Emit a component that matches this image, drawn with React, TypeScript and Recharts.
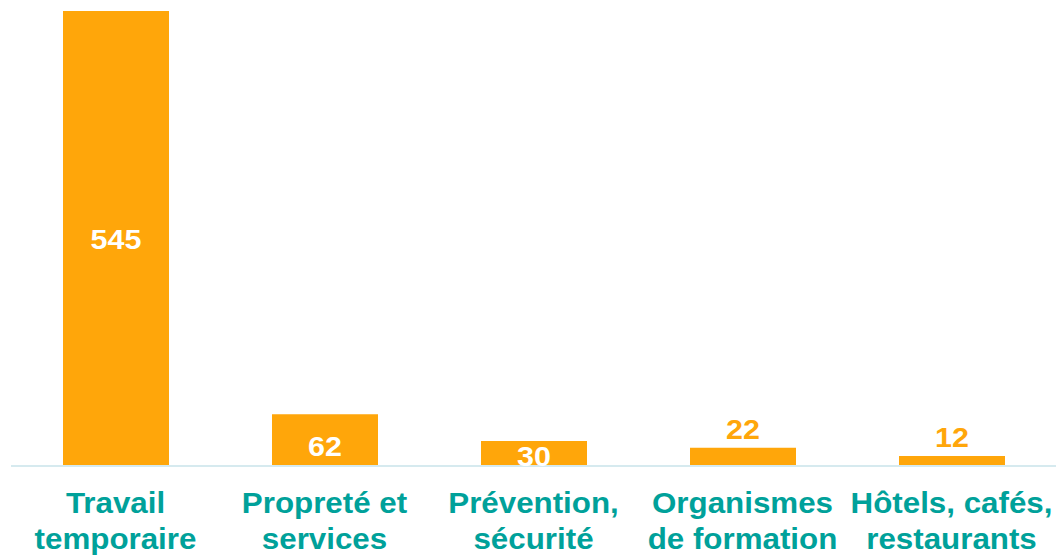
import React from 'react';
import { BarChart, Bar, XAxis, YAxis, LabelList } from 'recharts';

const categories = [
  'Travail\ntemporaire',
  'Propreté et\nservices',
  'Prévention,\nsécurité',
  'Organismes\nde formation',
  'Hôtels, cafés,\nrestaurants',
];
const values = [545, 62, 30, 22, 12];

const data = categories.map((c, i) => ({ name: c, value: values[i] }));

const BAR = '#FFA60A';
const TEAL = '#00A19A';
const FONT = '"Liberation Sans", Arial, sans-serif';

const Tick = (props: any) => {
  const { x, y, payload } = props;
  const lines = String(payload.value).split('\n');
  return (
    <g>
      {lines.map((l: string, i: number) => (
        <text
          key={i}
          transform={`translate(${x},${y + 39 + i * 36}) scale(1.08,1)`}
          x={0}
          y={0}
          textAnchor="middle"
          fill={TEAL}
          fontFamily={FONT}
          fontWeight="bold"
          fontSize={29}
        >
          {l}
        </text>
      ))}
    </g>
  );
};

const ValueLabel = (props: any) => {
  const { x, y, width, height, value } = props;
  const cx = x + width / 2;
  const bottom = y + height;
  let base: number;
  let fill = '#FFFFFF';
  if (height > 100) base = y + height / 2 + 10;
  else if (height > 40) base = bottom - 10;
  else if (height > 20) base = bottom;
  else {
    base = y - 9;
    fill = BAR;
  }
  return (
    <text
      transform={`translate(${cx},${base}) scale(1.09,1)`}
      x={0}
      y={0}
      textAnchor="middle"
      fill={fill}
      fontFamily={FONT}
      fontWeight="bold"
      fontSize={28}
    >
      {value}
    </text>
  );
};

export default function App() {
  return (
    <div style={{ position: 'absolute', left: 0, top: 0, background: '#fff' }}>
      <BarChart
        width={1059}
        height={555}
        data={data}
        margin={{ top: 11, right: 3, bottom: 0, left: 11 }}
        barSize={106}
      >
        <XAxis
          dataKey="name"
          height={89}
          interval={0}
          tickLine={false}
          axisLine={{ stroke: '#D6EAEF', strokeWidth: 2 }}
          tick={<Tick />}
        />
        <YAxis hide domain={[0, 545]} />
        <Bar dataKey="value" fill={BAR} isAnimationActive={false}>
          <LabelList dataKey="value" content={<ValueLabel />} />
        </Bar>
      </BarChart>
    </div>
  );
}
